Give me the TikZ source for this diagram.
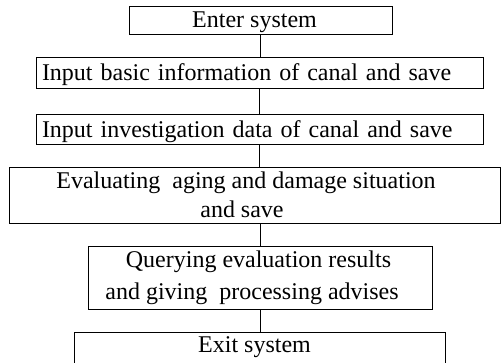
\documentclass[tikz,border=0pt]{standalone}
\usepackage{fontspec}
\setmainfont{Liberation Serif}
\usepackage{tikz}
\usetikzlibrary{positioning}

\tikzset{
  flowbox/.style={draw, line width=0.8pt, rectangle, inner sep=0pt, align=center,
    font=\fontsize{24}{29}\selectfont},
  oneline/.style={text depth=0pt},
  flowline/.style={line width=0.8pt}
}

\begin{document}
\begin{tikzpicture}[x=1pt, y=-1pt]
        \useasboundingbox (0,0) rectangle (501,362);
        \clip (0,0) rectangle (501,362);

        % Kasten
        \node[flowbox, oneline, minimum width=263pt, minimum height=28pt] (enter) at (260.5,20)
            {Enter system\hspace*{12pt}};
        \node[flowbox, oneline, minimum width=447pt, minimum height=31pt, text width=435pt, align=left] (basic) at (259.5,72.5)
            {Input basic information of canal and save};
        \node[flowbox, oneline, minimum width=447pt, minimum height=30pt, text width=435pt, align=left] (survey) at (259.5,129)
            {Input investigation data of canal and save};
        \node[flowbox, minimum width=491pt, minimum height=56pt] (evaluate) at (254.5,195)
            {Evaluating\ \ aging and damage situation\hspace*{17pt}\\ and save\hspace*{25pt}};
        \node[flowbox, minimum width=344pt, minimum height=63pt, font=\fontsize{24}{32}\selectfont] (query) at (260,277.5)
            {Querying evaluation results\hspace*{3pt}\\ and giving\ \ processing advises\hspace*{16pt}};
        \node[flowbox, text depth=15pt, minimum width=371pt, minimum height=40pt] (exit) at (259.5,352)
            {Exit system\hspace*{10pt}};

        % Linien
        \draw[flowline] (enter.south) -- (enter.south |- basic.north);
        \draw[flowline] (basic.south) -- (basic.south |- survey.north);
        \draw[flowline] (survey.south) -- (survey.south |- evaluate.north);
        \draw[flowline] (query.north |- evaluate.south) -- (query.north);
        \draw[flowline] (query.south) -- (query.south |- exit.north);
\end{tikzpicture}
\end{document}
